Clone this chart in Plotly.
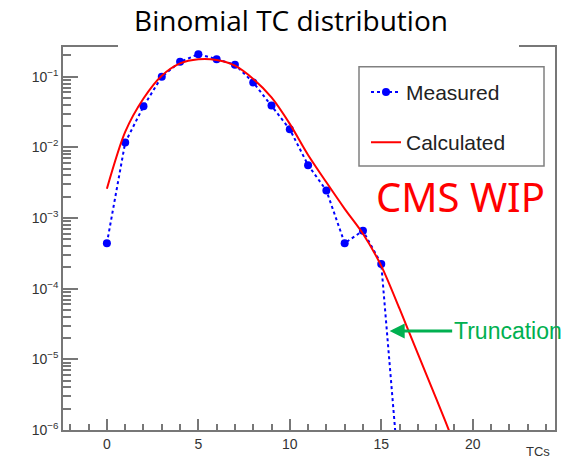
import plotly.graph_objects as go

# ---------------- data ----------------
tcs_measured = [0, 1, 2, 3, 4, 5, 6, 7, 8, 9, 10, 11, 12, 13, 14, 15, 16]
measured = [4.4e-4, 0.0117, 0.038, 0.100, 0.162, 0.208, 0.177, 0.148, 0.083,
            0.039, 0.018, 0.0056, 0.00245, 4.4e-4, 6.6e-4, 2.24e-4, 1.8e-7]

tcs_calc = [0, 1, 2, 3, 4, 5, 6, 7, 8, 9, 10, 11, 12, 13, 14, 15, 16, 17, 18, 19, 20]
calculated = [2.6e-3, 0.0165, 0.049, 0.103, 0.154, 0.176, 0.172, 0.143, 0.093,
              0.051, 0.0215, 0.0078, 0.0032, 1.35e-3, 6.0e-4, 2.1e-4, 5.2e-5,
              1.2e-5, 2.8e-6, 6.3e-7, 1.3e-7]

x_ticks = [0, 5, 10, 15, 20]
y_ticks = [1e-6, 1e-5, 1e-4, 1e-3, 1e-2, 1e-1]
y_tick_text = ["10<sup>−6</sup>", "10<sup>−5</sup>", "10<sup>−4</sup>",
               "10<sup>−3</sup>", "10<sup>−2</sup>", "10<sup>−1</sup>"]
y_minor_ticks = [m * 10.0 ** e for e in range(-6, 0) for m in range(2, 10)]

fig = go.Figure()
fig.add_trace(go.Scatter(
    x=tcs_measured, y=measured, mode="lines+markers", name="Measured",
    line=dict(color="#0000ff", width=2, dash="dot"),
    marker=dict(color="#0000ff", size=8), legendgroup="a"))
fig.add_trace(go.Scatter(
    x=tcs_calc, y=calculated, mode="lines", name="Calculated",
    line=dict(color="#ff0000", width=2, shape="spline", smoothing=0.8),
    legendgroup="b"))
# invisible trace carrying the minor-tick axis
fig.add_trace(go.Scatter(x=[tcs_calc[0]], y=[calculated[0]], yaxis="y2", mode="markers",
                         marker=dict(opacity=0), showlegend=False, hoverinfo="skip"))

axis_col = "#777777"
y_range = [-6, -0.58]
fig.update_layout(
    width=582, height=464,
    margin=dict(l=63, r=27, t=47, b=31),
    paper_bgcolor="white", plot_bgcolor="white",
    font=dict(family="Liberation Sans, Arial", color="#222"),
    title=dict(text="Binomial TC distribution", x=0.5, xanchor="center", xref="container",
               y=1 - 21 / 464, yanchor="middle", yref="container",
               font=dict(family="Open Sans", size=28, color="black")),
    xaxis=dict(range=[-2.4, 24.5], tickvals=x_ticks, ticks="inside", ticklen=11,
               tickcolor=axis_col, tickwidth=1.5, showline=True, linecolor=axis_col,
               linewidth=1.5, mirror=True, showgrid=False, zeroline=False,
               tickfont=dict(size=14, color="#333"),
               minor=dict(dtick=1, ticks="inside", ticklen=6, tickcolor=axis_col,
                          tickwidth=1.5)),
    yaxis=dict(type="log", range=y_range, tickvals=y_ticks, ticktext=y_tick_text,
               ticks="inside", ticklen=15, tickwidth=1.5, tickcolor=axis_col,
               showline=True, linecolor=axis_col, linewidth=1.5, mirror=True,
               showgrid=False, zeroline=False, tickfont=dict(size=14, color="#333")),
    yaxis2=dict(type="log", range=y_range, overlaying="y", side="left", anchor="x",
                tickmode="array", tickvals=y_minor_ticks, ticks="inside", ticklen=8,
                tickwidth=1.5, tickcolor=axis_col, showticklabels=False,
                showgrid=False, showline=False, zeroline=False),
    legend=dict(x=(366 - 63) / 492, y=1 - (72 - 47) / 386, xanchor="left", yanchor="top",
                bgcolor="rgba(0,0,0,0)", borderwidth=0, tracegroupgap=20,
                traceorder="grouped", font=dict(size=21, color="#222")),
    showlegend=True,
)

# legend border box and white cover over the top frame line (title box)
fig.add_shape(type="rect", xref="paper", yref="paper",
              x0=(359 - 63) / 492, x1=(544 - 63) / 492,
              y0=1 - (167 - 47) / 386, y1=1 - (67 - 47) / 386,
              line=dict(color="#808080", width=1.5), fillcolor="rgba(0,0,0,0)")
fig.add_shape(type="rect", xref="paper", yref="paper",
              x0=(118 - 63) / 492, x1=(519 - 63) / 492,
              y0=1 - (49.5 - 47) / 386, y1=1 + 3 / 386,
              line=dict(width=0), fillcolor="white", layer="above")

fig.add_annotation(text="CMS WIP", xref="paper", yref="paper",
                   x=(460 - 63) / 492, y=1 - (198 - 47) / 386,
                   xanchor="center", yanchor="middle", showarrow=False,
                   font=dict(family="Noto Sans", size=40, color="#ff0000"))
fig.add_annotation(text="Truncation", x=15.46, y=-4.6, xref="x", yref="y",
                   ax=118, ay=0, showarrow=True, arrowhead=2, arrowsize=1,
                   arrowwidth=3, arrowcolor="#00B050",
                   font=dict(family="Liberation Sans, Arial", size=23, color="#00B050"))
fig.add_annotation(text="TCs", xref="paper", yref="paper",
                   x=(552 - 63) / 492, y=-(455 - 433) / 386,
                   xanchor="right", yanchor="middle", showarrow=False,
                   font=dict(size=13, color="#333"))

fig.write_html("out.html")
